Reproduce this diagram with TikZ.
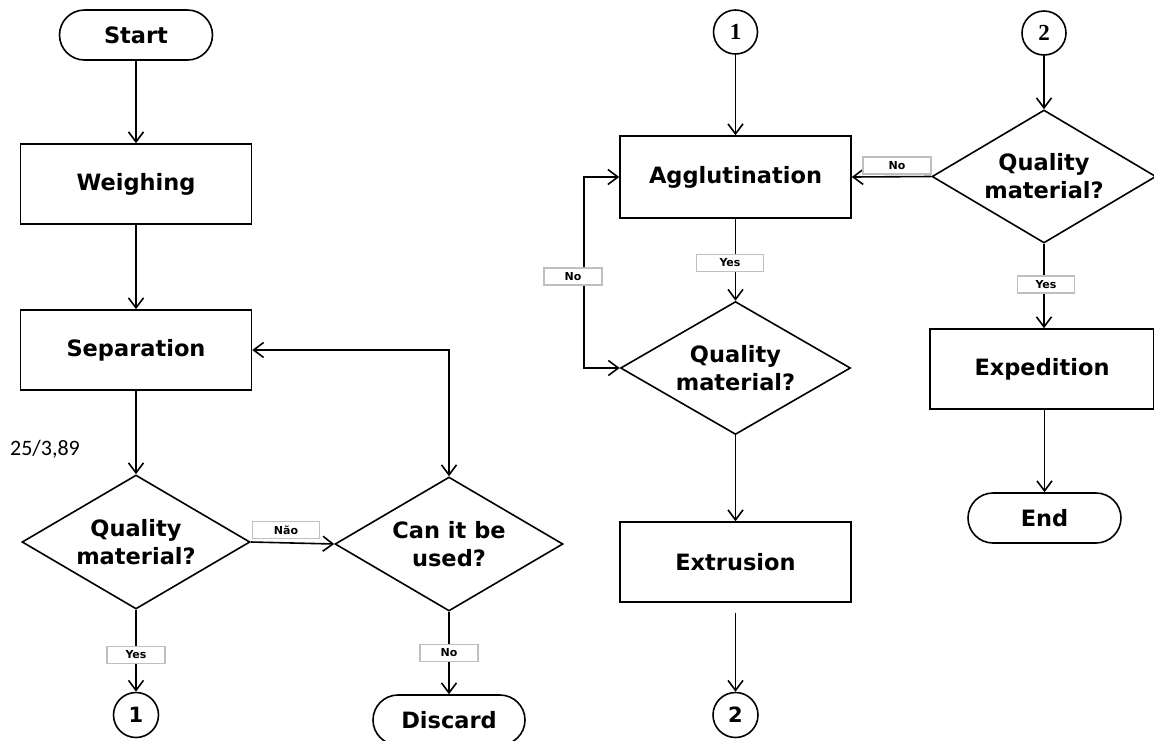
\documentclass[tikz,border=0pt]{standalone}
\usepackage{fontspec}
\setmainfont{DejaVu Sans}
\newfontfamily\numserif{Liberation Serif}
\newfontfamily\carl{Carlito}
\usetikzlibrary{arrows.meta,shapes.geometric}
\begin{document}
\begin{tikzpicture}[x=1pt,y=-1pt,
  every node/.style={inner sep=0pt},
  line width=1.6pt,
  >={Straight Barb[length=10pt,width=15pt]},
  bigtext/.style={font=\fontsize{22.5}{28}\selectfont\bfseries},
  proc/.style={draw, rectangle, minimum width=231pt, minimum height=80pt, bigtext},
  term/.style={draw, rectangle, rounded corners=25pt, minimum width=153pt, minimum height=50pt, bigtext},
  decision/.style={draw, diamond, aspect=1.7, minimum width=228pt, minimum height=134pt, align=center, bigtext},
  conn/.style={draw, circle, minimum size=45pt, font=\fontsize{21}{24}\selectfont\bfseries},
  connT/.style={draw, circle, minimum size=44pt, font=\numserif\fontsize{23}{24}\selectfont\bfseries},
  lbl/.style={draw=black!25, fill=white, line width=1.3pt, minimum height=17pt, font=\fontsize{11}{12}\selectfont\bfseries}
]
\useasboundingbox[fill=white] (0,0) rectangle (1154,740);

% left column
\node[term] (start) at (136,35) {Start};
\node[proc] (weigh) at (136,184) {Weighing};
\node[proc] (sep) at (136,350) {Separation};
\node[decision] (d1) at (136,542) {Quality\\material?};
\node[conn] (c1L) at (136,715) {1};
\node[decision] (can) at (449,544) {Can it be\\used?};
\node[term, minimum width=152pt] (discard) at (449,720) {Discard};
\node[font=\carl\fontsize{22}{24}\selectfont] (note) at (45,449) {25/3,89};

% middle column
\node[connT] (c1T) at (735.5,32) {1};
\node[proc, minimum height=82pt] (agg) at (735.5,177) {Agglutination};
\node[decision, minimum width=230pt, minimum height=133pt] (d3) at (735.5,368) {Quality\\material?};
\node[proc] (ext) at (735.5,562) {Extrusion};
\node[conn] (c2B) at (735.5,715) {2};

% right column
\node[connT] (c2T) at (1044,33) {2};
\node[decision, minimum width=224pt, minimum height=133pt] (d2) at (1044,176.5) {Quality\\material?};
\node[proc, minimum width=224pt] (exped) at (1042,369) {Expedition};
\node[term] (end) at (1044.5,518) {End};

% connectors
\draw[->] (start) -- (weigh);
\draw[->] (weigh) -- (sep);
\draw[->] (sep) -- (d1);
\draw[->] (d1) -- (c1L);
\draw[->] (d1.east) -- (can.west);
\draw[<->] (sep.east) -| (can.north);
\draw[->] (can) -- (discard);

\draw[->] (c1T) -- (agg);
\draw[->] (agg) -- (d3);
\draw[<->] (agg.west) -- ++(-35,0) coordinate (loop) |- (d3.west);
\draw[->] (d3) -- (ext);
\draw[->, shorten <=10pt] (ext) -- (c2B);

\draw[->] (c2T) -- (d2);
\draw[->] (d2.west) -- (agg.east);
\draw[->] (d2.south) -- (d2.south |- exped.north);
\draw[->] (exped.south -| end) -- (end);

% labels
\node[lbl, minimum width=67pt] (lnao) at (286,530) {Não};
\node[lbl, minimum width=58pt] (lyes1) at (136,655) {Yes};
\node[lbl, minimum width=58pt] (lno1) at (449,653) {No};
\node[lbl, minimum width=68pt] (lno2) at (897,165.5) {No};
\node[lbl, minimum width=58pt] (lno3) at (573,276.5) {No};
\node[lbl, minimum width=67pt] (lyes2) at (730,263) {Yes};
\node[lbl, minimum width=57pt] (lyes3) at (1046,284.5) {Yes};
\end{tikzpicture}
\end{document}
